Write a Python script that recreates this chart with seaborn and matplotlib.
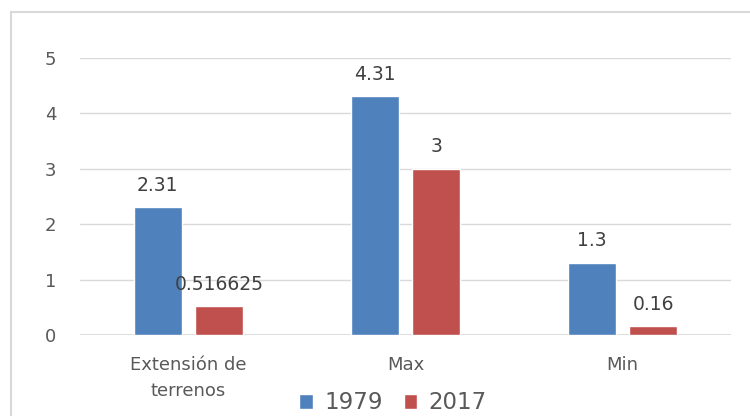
import pandas as pd
import matplotlib.pyplot as plt
import seaborn as sns
from matplotlib.patches import Rectangle

# Datos
categorias = ["Extensión de\nterrenos", "Max", "Min"]
anios = ["1979", "2017"]
valores_1979 = [2.31, 4.31, 1.3]
valores_2017 = [0.516625, 3, 0.16]
etiquetas_1979 = ["2.31", "4.31", "1.3"]
etiquetas_2017 = ["0.516625", "3", "0.16"]
colores = ["#4F81BD", "#C0504D"]


def build_frame():
    df = pd.DataFrame({
        "categoria": categorias * 2,
        "anio": [anios[0]] * 3 + [anios[1]] * 3,
        "valor": valores_1979 + valores_2017,
    })
    return df


def plot_chart(df):
    sns.set_theme(style="white")
    plt.rcParams['font.family'] = ['DejaVu Sans']
    fig = plt.figure(figsize=(7.5, 4.16), dpi=100)
    ax = fig.add_axes([0.1067, 0.1947, 0.868, 0.666])

    # marco exterior gris
    fig.patches.append(Rectangle((11 / 750, -0.1), 1.2, 1 - 12 / 416 + 0.1,
                                 transform=fig.transFigure, fill=False,
                                 edgecolor="#d9d9d9", linewidth=1.5))

    sns.barplot(data=df, x="categoria", y="valor", hue="anio",
                palette=colores, width=0.566, gap=0.22, ax=ax,
                saturation=1, legend=True)

    for cont, labs in zip(ax.containers, [etiquetas_1979, etiquetas_2017]):
        ax.bar_label(cont, labels=labs, padding=9, fontsize=13.5, color="#404040")

    ax.set_ylim(0, 5)
    ax.set_xlim(-0.5, 2.5)
    ax.set_yticks(range(0, 6))
    ax.yaxis.grid(True, color="#d9d9d9", linewidth=1)
    ax.set_axisbelow(True)
    for s in ax.spines.values():
        s.set_visible(False)
    ax.axhline(0, color="#d9d9d9", linewidth=1.2, zorder=0)
    ax.set_xlabel("")
    ax.set_ylabel("")
    ax.tick_params(axis="y", labelsize=13, labelcolor="#595959", length=0, pad=17)
    ax.tick_params(axis="x", labelsize=13, labelcolor="#595959", length=0, pad=15)
    for t in ax.get_xticklabels():
        t.set_linespacing(1.6)

    handles, labels = ax.get_legend_handles_labels()
    ax.legend(handles, labels, loc="center", bbox_to_anchor=(0.481, -0.245),
              ncol=2, frameon=False, fontsize=16.5, handlelength=0.6,
              handleheight=0.6, handletextpad=0.5, columnspacing=0.9,
              labelcolor="#595959")

    fig.savefig("out.png", dpi=100)


if __name__ == "__main__":
    plot_chart(build_frame())
